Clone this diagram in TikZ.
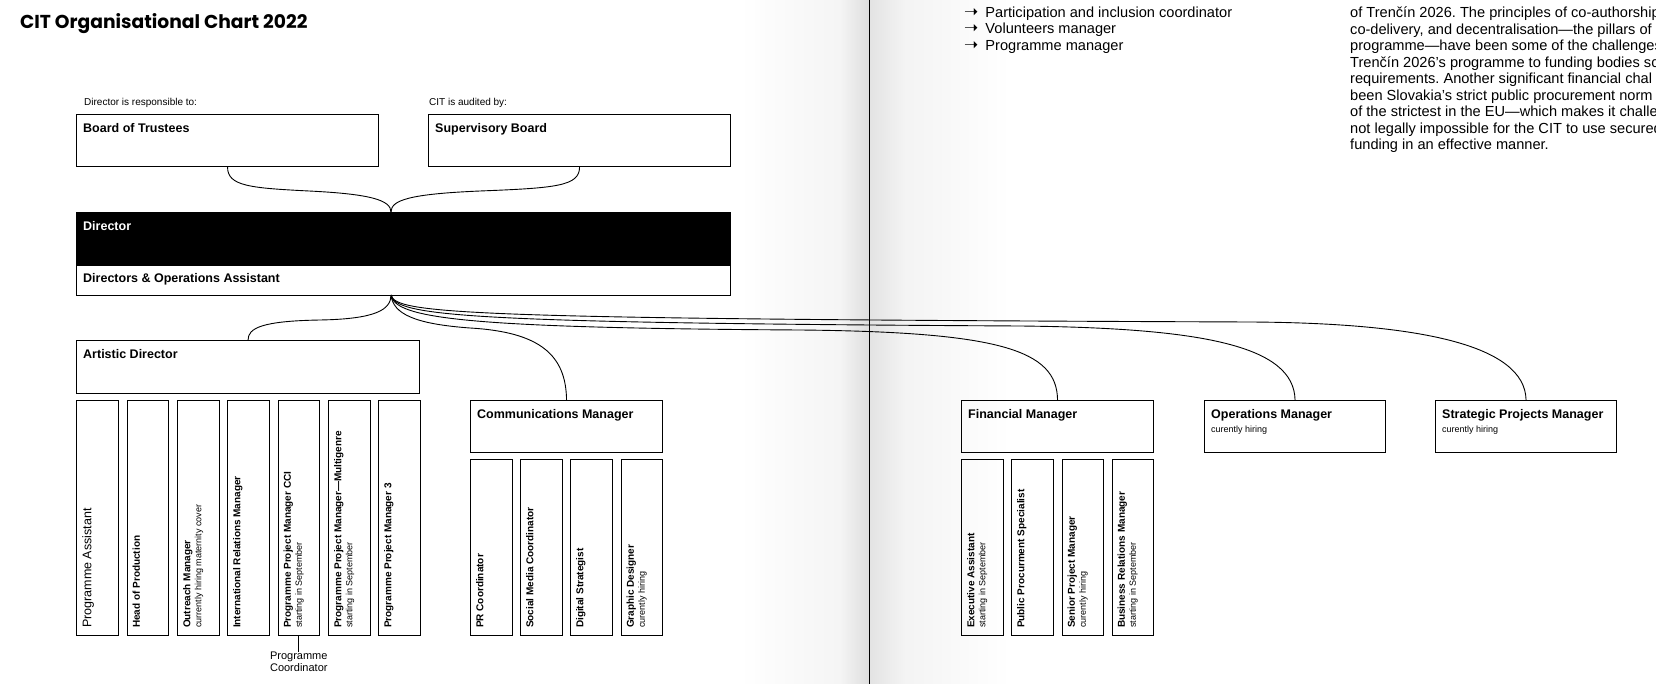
\documentclass[tikz,border=0pt]{standalone}
\usepackage{fontspec}
\setmainfont{Liberation Sans}
\newfontfamily\titlefont{Poppins}
\newfontfamily\symfont{DejaVu Sans}
\usetikzlibrary{positioning}
\newcommand{\subnote}[1]{{\fontsize{9}{11}\selectfont\mdseries #1}}
\newcommand{\pointer}{{\symfont\fontsize{17}{16.5}\selectfont ➝}\hspace{7pt}}

\begin{document}
\frenchspacing
\begin{tikzpicture}[x=1pt,y=-1pt,
  hd/.style={draw, line width=1.1pt, anchor=north west, inner sep=0pt},
  sb/.style={hd, minimum width=41.5pt},
  hl/.style={anchor=north west, xshift=7pt, yshift=-9.5pt, inner sep=0pt,
             align=left, font=\fontsize{12.5}{14}\selectfont\bfseries},
  vl/.style={xshift=6pt, yshift=8pt, rotate=90, anchor=north west,
             inner sep=0pt, align=left, font=\fontsize{10}{11}\selectfont\bfseries},
  note/.style={inner sep=0pt, anchor=base west, font=\fontsize{10}{12}\selectfont},
  txt/.style={inner sep=0pt, anchor=north west, align=left,
              font=\fontsize{14.6}{16.5}\selectfont},
  cn/.style={line width=0.9pt}]
\useasboundingbox (0,0) rectangle (1656,684);
\clip (0,0) rectangle (1656,684);
% ---- page and fold ----
\fill[white] (0,0) rectangle (1656,684);
\shade[left color=white, right color=gray!8] (740,0) rectangle (840,684);
\shade[left color=gray!8, right color=gray!26] (840,0) rectangle (869,684);
\shade[left color=gray!22, right color=gray!9] (869,0) rectangle (905,684);
\shade[left color=gray!9, right color=white] (905,0) rectangle (1010,684);
\draw[line width=1pt] (869,0) -- (869,684);
% ---- right page text ----
\node[txt] (list) at (964,6.7)
  {\pointer Participation and inclusion coordinator\\
   \pointer Volunteers manager\\
   \pointer Programme manager};
\node[txt] (para) at (1350,6.7)
  {of Trenčín 2026. The principles of co-authorship\\
   co-delivery, and decentralisation—the pillars of o\\
   programme—have been some of the challenges\\
   Trenčín 2026’s programme to funding bodies sc\\
   requirements. Another significant financial chal\\
   been Slovakia’s strict public procurement norm\\
   of the strictest in the EU—which makes it challen\\
   not legally impossible for the CIT to use secured\\
   funding in an effective manner.};
% ---- title and board row ----
\node[anchor=base west, inner sep=0pt,
      font=\titlefont\fontsize{18.7}{22}\selectfont\bfseries] (title) at (20,28.5)
      {CIT Organisational Chart 2022};
\node[note] (resp) at (84,106) {Director is responsible to:};
\node[note] (audit) at (429,106) {CIT is audited by:};
\node[hd, minimum width=302pt, minimum height=52pt,
      label={[hl]north west:Board of Trustees}] (board) at (76,114) {};
\node[hd, minimum width=302pt, minimum height=52pt,
      label={[hl]north west:Supervisory Board}] (sup) at (428,114) {};
% ---- director ----
\node[hd, fill=black, minimum width=654pt, minimum height=53pt,
      label={[hl, text=white]north west:Director}] (dir) at (76,212) {};
\node[hd, minimum width=654pt, minimum height=30pt,
      label={[hl, yshift=1pt]north west:Directors \& Operations Assistant}] (doa) at (76,265) {};
\coordinate (tj) at (391,212);
\coordinate (br) at (391,295);
% ---- unit heads ----
\node[hd, minimum width=343pt, minimum height=53pt,
      label={[hl]north west:Artistic Director}] (art) at (76,340) {};
\node[hd, minimum width=192pt, minimum height=52pt,
      label={[hl]north west:Communications Manager}] (com) at (470,400) {};
\node[hd, minimum width=192pt, minimum height=52pt,
      label={[hl]north west:Financial Manager}] (fin) at (961,400) {};
\node[hd, minimum width=181pt, minimum height=52pt,
      label={[hl]north west:Operations Manager\\\subnote{curently hiring}}] (ops) at (1204,400) {};
\node[hd, minimum width=181pt, minimum height=52pt,
      label={[hl]north west:Strategic Projects Manager\\\subnote{curently hiring}}] (spm) at (1435,400) {};
% ---- artistic team ----
\node[sb, minimum height=235pt,
      label={[vl, font=\fontsize{12.5}{14}\selectfont]south west:Programme Assistant}] (pa) at (76,400) {};
\node[sb, minimum height=235pt,
      label={[vl]south west:Head of Production}] (hop) at (126.5,400) {};
\node[sb, minimum height=235pt,
      label={[vl]south west:Outreach Manager\\\subnote{currently hiring maternity cover}}] (om) at (177,400) {};
\node[sb, minimum height=235pt,
      label={[vl]south west:International Relations Manager}] (irm) at (227,400) {};
\node[sb, minimum height=235pt,
      label={[vl]south west:Programme Project Manager CCI\\\subnote{starting in September}}] (ppm1) at (277.5,400) {};
\node[sb, minimum height=235pt,
      label={[vl]south west:Programme Project Manager—Multigenre\\\subnote{starting in September}}] (ppm2) at (328,400) {};
\node[sb, minimum height=235pt,
      label={[vl]south west:Programme Project Manager 3}] (ppm3) at (378,400) {};
\node[inner sep=0pt, align=center, font=\fontsize{11}{12}\selectfont,
      below=16pt of ppm1] (pco) {Programme\\Coordinator};
\draw[cn] (ppm1) -- (pco);
% ---- communications team ----
\node[sb, minimum height=176pt,
      label={[vl]south west:PR Coordinator}] (prc) at (470,459) {};
\node[sb, minimum height=176pt,
      label={[vl]south west:Social Media Coordinator}] (smc) at (520,459) {};
\node[sb, minimum height=176pt,
      label={[vl]south west:Digital Strategist}] (dst) at (570,459) {};
\node[sb, minimum height=176pt,
      label={[vl]south west:Graphic Designer\\\subnote{curently hiring}}] (gd) at (620.5,459) {};
% ---- finance team ----
\node[sb, minimum height=176pt,
      label={[vl]south west:Executive Assistant\\\subnote{starting in September}}] (ea) at (961,459) {};
\node[sb, minimum height=176pt,
      label={[vl]south west:Public Procurment Specialist}] (pps) at (1011,459) {};
\node[sb, minimum height=176pt,
      label={[vl]south west:Senior Project Manager\\\subnote{curently hiring}}] (spr) at (1061.5,459) {};
\node[sb, minimum height=176pt,
      label={[vl]south west:Business Relations Manager\\\subnote{starting in September}}] (brm) at (1111.5,459) {};
% ---- brace into director ----
\draw[cn] (board.south) .. controls +(0,19) and (250,188) .. (309,191)
  .. controls (370,194) and (391,200) .. (tj);
\draw[cn] (sup.south) .. controls +(0,19) and (556,188) .. (480,191)
  .. controls (410,194) and (391,200) .. (tj);
% ---- director to unit heads ----
\draw[cn] (br) .. controls (391,310) and (375,319) .. (320,320)
  .. controls (262,321) and (248,328) .. (art.north);
\draw[cn] (br) .. controls (393,314) and (415,324) .. (470,328)
  .. controls (540,332) and (566,355) .. (com.north);
\draw[cn] (br) .. controls (395,318) and (460,328) .. (800,330)
  .. controls (1000,332) and (1057,350) .. (fin.north);
\draw[cn] (br) .. controls (396,316) and (460,323) .. (1020,326)
  .. controls (1200,328) and (1294,345) .. (ops.north);
\draw[cn] (br) .. controls (396,314) and (460,319) .. (1250,322)
  .. controls (1420,323) and (1525,345) .. (spm.north);
\end{tikzpicture}
\end{document}
